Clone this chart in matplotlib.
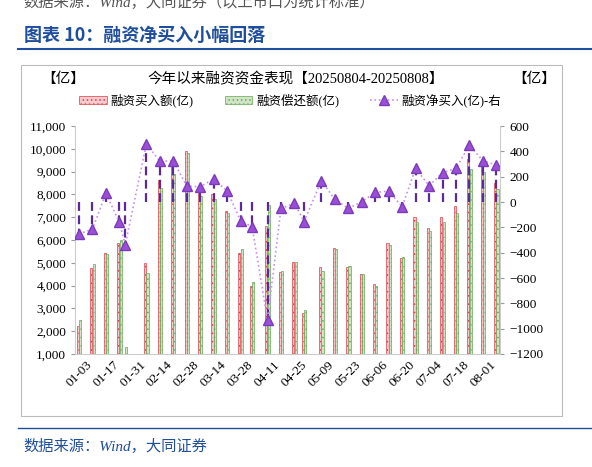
import matplotlib
matplotlib.use("Agg")
import matplotlib.pyplot as plt
import matplotlib.dates as mdates
from matplotlib.ticker import FuncFormatter
import numpy as np
import pandas as pd

plt.rcParams['font.family'] = ['Liberation Serif', 'Noto Sans CJK SC']
plt.rcParams['hatch.linewidth'] = 0.6

# 周度数据（亿元）
dates = ['2025-01-03', '2025-01-10', '2025-01-17', '2025-01-24', '2025-01-27',
         '2025-02-07', '2025-02-14', '2025-02-21', '2025-02-28', '2025-03-07',
         '2025-03-14', '2025-03-21', '2025-03-28', '2025-04-03', '2025-04-11',
         '2025-04-18', '2025-04-25', '2025-04-30', '2025-05-09', '2025-05-16',
         '2025-05-23', '2025-05-30', '2025-06-06', '2025-06-13', '2025-06-20',
         '2025-06-27', '2025-07-04', '2025-07-11', '2025-07-18', '2025-07-25',
         '2025-08-01', '2025-08-08']
buy = [2240, 4790, 5445, 5855, 950, 5005, 8630, 9215, 9920, 8075,
       8030, 7285, 5415, 3980, 6600, 4610, 5020, 2785, 4830, 5635,
       4830, 4510, 4070, 5880, 5225, 7025, 6510, 7025, 7490, 9540,
       9290, 8515]
repay = [2490, 4950, 5380, 6000, 1290, 4540, 8270, 8890, 9800, 7950,
         7790, 7200, 5590, 4160, 7530, 4660, 5030, 2930, 4640, 5610,
         4870, 4500, 4000, 5790, 5260, 6800, 6380, 6800, 7200, 9100,
         8980, 8240]
net = [-253, -213, 69, -161, -340, 458, 324, 324, 126, 121,
       182, 87, -147, -195, -932, -50, -10, -155, 168, 21,
       -50, 3, 76, 87, -37, 266, 129, 232, 266, 450,
       326, 292]

d = pd.to_datetime(dates)
x = mdates.date2num(d)

fig = plt.figure(figsize=(5.92, 4.67), dpi=100)

# 页面装饰
fig.text(0.04, 0.995, "数据来源：Wind，大同证券（以上市口为统计标准）", fontsize=11,
         color='#555555', style='italic', va='center')
fig.text(0.04, 0.925, "图表 10：融资净买入小幅回落", fontsize=13, color='#1f4e9c',
         fontweight='bold', va='center', family=['Noto Sans CJK SC'])
fig.add_artist(plt.Line2D([0.03, 1.0], [0.895, 0.895], color='#1f4e9c', lw=1.5))
fig.add_artist(plt.Line2D([0.03, 1.0], [0.083, 0.083], color='#1f4e9c', lw=1.0))
fig.text(0.04, 0.045, "数据来源：Wind，大同证券", fontsize=11, color='#1f4e9c',
         style='italic', va='center')
fig.add_artist(plt.Rectangle((0.035, 0.11), 0.915, 0.75, fill=False,
                             edgecolor='#bbbbbb', lw=0.8))

ax = fig.add_axes([0.127, 0.242, 0.718, 0.488])
ax2 = ax.twinx()

ax.bar(x - 0.6, buy, width=1.1, color='#f6c9cc', edgecolor='#e0404a',
       hatch='....', lw=0.5, label='融资买入额(亿)')
ax.bar(x + 0.6, repay, width=1.1, color='#cfe5c6', edgecolor='#6aa85a',
       hatch='....', lw=0.5, label='融资偿还额(亿)')
ax2.vlines(x, 0, net, colors='#5b2a9a', linestyles=(0, (4, 2)), lw=1.6)
ax2.plot(x, net, color='#c98ff0', ls=':', lw=1.2, marker='^', ms=7,
         mfc='#9b4fd8', mec='#7b3ab8', label='融资净买入(亿)-右')

ax.set_ylim(1000, 11000)
ax.set_yticks(np.arange(1000, 11001, 1000))
ax.yaxis.set_major_formatter(FuncFormatter(lambda v, p: f"{int(v):,}"))
ax2.set_ylim(-1200, 600)
ax2.set_yticks(np.arange(-1200, 601, 200))
ax.set_xlim(mdates.date2num(pd.Timestamp('2025-01-01')),
            mdates.date2num(pd.Timestamp('2025-08-10')))
ticks = pd.date_range('2025-01-03', '2025-08-08', freq='14D')
ax.set_xticks(mdates.date2num(ticks))
ax.set_xticklabels([t.strftime('%m-%d') for t in ticks], rotation=45, fontsize=9)

for a in (ax, ax2):
    for s in a.spines.values():
        s.set_visible(False)
    a.tick_params(labelsize=9.5, color='#999999', length=3)
ax.spines['bottom'].set_visible(True)
ax.spines['bottom'].set_color('#cccccc')
ax.spines['left'].set_visible(True)
ax.spines['left'].set_color('#cccccc')
ax2.spines['right'].set_visible(True)
ax2.spines['right'].set_color('#cccccc')
ax.tick_params(axis='x', length=0)

fig.text(0.5, 0.83, "今年以来融资资金表现【20250804-20250808】", ha='center',
         fontsize=10.5, va='center')
fig.text(0.07, 0.83, "【亿】", fontsize=10.5, va='center')
fig.text(0.865, 0.83, "【亿】", fontsize=10.5, va='center')

h1, l1 = ax.get_legend_handles_labels()
h2, l2 = ax2.get_legend_handles_labels()
fig.legend(h1 + h2, l1 + l2, loc='center', bbox_to_anchor=(0.49, 0.785), ncol=3,
           frameon=False, fontsize=9, handlelength=2.2, columnspacing=2.5,
           handletextpad=0.3)

fig.savefig('out.png', dpi=100)
